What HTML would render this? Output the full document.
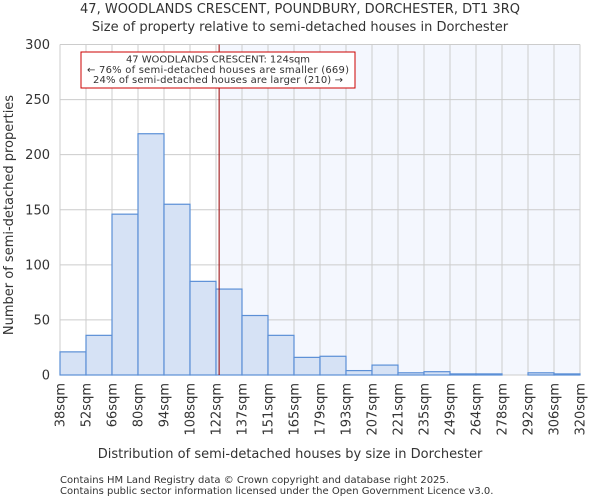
<!DOCTYPE html>
<html><head><meta charset="utf-8"><style>
body{margin:0;background:#fff;font-family:"DejaVu Sans","Liberation Sans",sans-serif}
svg text{fill:#333}
</style></head><body>
<svg width="600" height="500" id="c">
<text x="300" y="13" text-anchor="middle" font-size="13">47, WOODLANDS CRESCENT, POUNDBURY, DORCHESTER, DT1 3RQ</text>
<text x="300" y="31" text-anchor="middle" font-size="13">Size of property relative to semi-detached houses in Dorchester</text>
<g id="plot"></g>
<text x="290" y="458" text-anchor="middle" font-size="13">Distribution of semi-detached houses by size in Dorchester</text>
<text transform="translate(13,215) rotate(-90)" text-anchor="middle" font-size="13">Number of semi-detached properties</text>
<text x="60" y="483" font-size="10">Contains HM Land Registry data © Crown copyright and database right 2025.</text>
<text x="60" y="494" font-size="10">Contains public sector information licensed under the Open Government Licence v3.0.</text>
</svg>
<script>
const binLabels=["38sqm","52sqm","66sqm","80sqm","94sqm","108sqm","122sqm","137sqm","151sqm","165sqm","179sqm","193sqm","207sqm","221sqm","235sqm","249sqm","264sqm","278sqm","292sqm","306sqm","320sqm"];
const counts=[21,36,146,219,155,85,78,54,36,16,17,4,9,2,3,1,1,0,2,1];
const yTicks=[0,50,100,150,200,250,300];
const markerPos=6.12;
const L=60,R=580,T=44.5,B=375,yMax=300;
const n=counts.length,bw=(R-L)/n;
const xs=i=>L+i*bw, ys=v=>B-(v/yMax)*(B-T);
const g=document.getElementById('plot'),NS="http://www.w3.org/2000/svg";
function mk(t,a,p){const e=document.createElementNS(NS,t);for(const k in a)e.setAttribute(k,a[k]);(p||g).appendChild(e);return e;}
const mx=xs(markerPos);
let e=mk('rect',{x:mx,y:T,width:R-mx,height:B-T,fill:'#f4f7fe'});


for(let i=0;i<=n;i++){e=mk('line',{x1:xs(i),x2:xs(i),y1:T,y2:B,stroke:'#cccccc'});

}
yTicks.forEach(v=>{e=mk('line',{x1:L,x2:R,y1:ys(v),y2:ys(v),stroke:'#cccccc'});


e=mk('text',{x:L-10,y:ys(v)+4.5,'text-anchor':'end','font-size':13});e.textContent=v;

});
counts.forEach((v,i)=>{if(v<=0)return;e=mk('rect',{x:xs(i),y:ys(v),width:bw,height:B-ys(v),fill:'#d6e2f5',stroke:'#5b8fd6','stroke-width':1.2});

});
binLabels.forEach((l,i)=>{e=mk('text',{transform:`translate(${xs(i)+4.5},${B+8}) rotate(-90)`,'text-anchor':'end','font-size':13});e.textContent=l;

});
e=mk('line',{x1:mx,x2:mx,y1:T,y2:B,stroke:'#990000','stroke-width':1});


const box=mk('g',{});


mk('rect',{x:81,y:52,width:274,height:36,fill:'#fff',stroke:'#cc0000','stroke-width':1},box);
["47 WOODLANDS CRESCENT: 124sqm","← 76% of semi-detached houses are smaller (669)","24% of semi-detached houses are larger (210) →"].forEach((t,k)=>{const tx=mk('text',{x:218,y:62.5+k*10.3,'text-anchor':'middle','font-size':10,textLength:k==0?184:(k==1?262:250)},box);tx.textContent=t;

});
</script>
</body></html>
